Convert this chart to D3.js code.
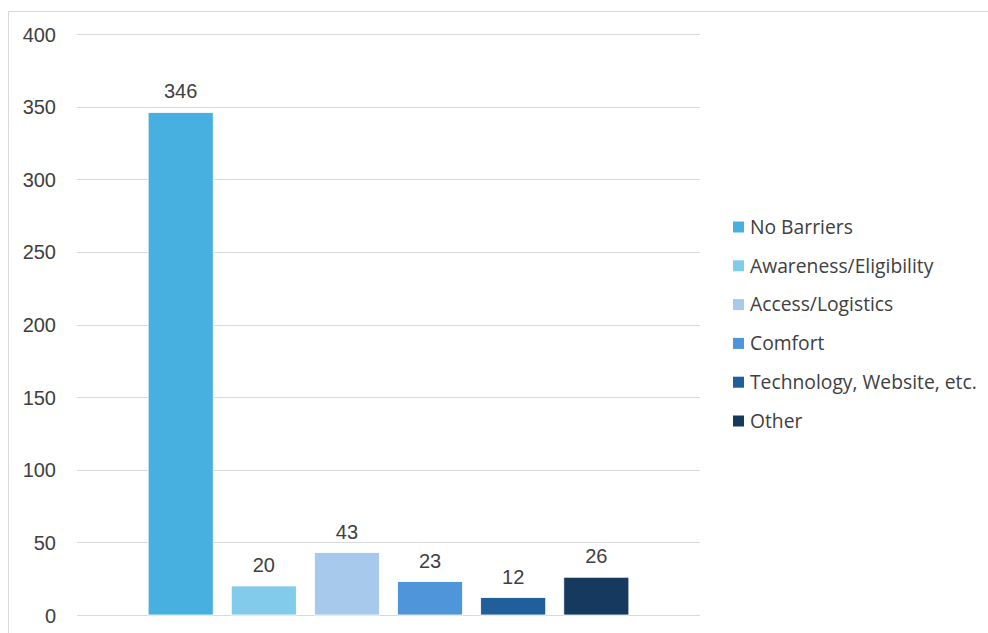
<!DOCTYPE html>
<html>
<head>
<meta charset="utf-8">
<script src="https://cdn.jsdelivr.net/npm/d3@7"></script>
<style>
  html, body { margin: 0; padding: 0; background: #fff; }
  svg { display: block; }
</style>
</head>
<body>
<svg id="chart" width="988" height="633"></svg>
<script>
// Survey responses: reported barriers
const categories = ["No Barriers", "Awareness/Eligibility", "Access/Logistics", "Comfort", "Technology, Website, etc.", "Other"];
const values = [346, 20, 43, 23, 12, 26];
const colors = ["#47B0E0", "#83CBEB", "#A6C9EC", "#4E95D9", "#215F9A", "#163A5F"];
const yTicks = [0, 50, 100, 150, 200, 250, 300, 350, 400];

const svg = d3.select("#chart");
const W = 988, H = 633;

// outer chart frame
svg.append("rect")
  .attr("x", 8.5).attr("y", 11.5)
  .attr("width", W).attr("height", H)
  .attr("fill", "#fff").attr("stroke", "#d9d9d9").attr("stroke-width", 1);

const plot = { left: 77, right: 700, top: 34, bottom: 615 };

const y = d3.scaleLinear().domain([0, 400]).range([plot.bottom, plot.top]);

// bars for one category group, centred in the plot
const x = d3.scaleBand()
  .domain(categories)
  .range([plot.left + 62, plot.right - 62])
  .paddingInner(0.217)
  .paddingOuter(0.11);

// gridlines
svg.append("g")
  .selectAll("line")
  .data(yTicks)
  .join("line")
  .attr("x1", plot.left).attr("x2", plot.right)
  .attr("y1", d => Math.round(y(d)) + 0.5)
  .attr("y2", d => Math.round(y(d)) + 0.5)
  .attr("stroke", "#d9d9d9").attr("stroke-width", 1.2);

// y axis labels
const yAxis = d3.axisLeft(y).tickValues(yTicks).tickSize(0).tickPadding(0);
const gy = svg.append("g").attr("transform", `translate(56,0)`).call(yAxis);
gy.select(".domain").remove();
gy.selectAll("text")
  .attr("font-family", "'Liberation Sans', Arial, sans-serif")
  .attr("font-size", 20)
  .attr("fill", "#404040")
  .attr("dy", "0.35em");

// bars
svg.append("g")
  .selectAll("rect")
  .data(categories)
  .join("rect")
  .attr("x", d => x(d))
  .attr("width", x.bandwidth())
  .attr("y", (d, i) => y(values[i]))
  .attr("height", (d, i) => y(0) - y(values[i]))
  .attr("fill", (d, i) => colors[i])
  .attr("stroke", "#fff").attr("stroke-width", 0.8);

// value labels
svg.append("g")
  .selectAll("text")
  .data(categories)
  .join("text")
  .attr("x", d => x(d) + x.bandwidth() / 2)
  .attr("y", (d, i) => y(values[i]) - 14)
  .attr("text-anchor", "middle")
  .attr("font-family", "'Liberation Sans', Arial, sans-serif")
  .attr("font-size", 20)
  .attr("fill", "#404040")
  .text((d, i) => values[i]);

// legend
const legend = svg.append("g").attr("transform", "translate(733,227)");
const items = legend.selectAll("g")
  .data(categories)
  .join("g")
  .attr("transform", (d, i) => `translate(0,${i * 38.8})`);
items.append("rect")
  .attr("x", 0).attr("y", -5.5)
  .attr("width", 11).attr("height", 11)
  .attr("fill", (d, i) => colors[i]);
items.append("text")
  .attr("x", 17).attr("y", 0)
  .attr("dy", "0.35em")
  .attr("font-family", "'Open Sans', sans-serif")
  .attr("font-size", 19.3)
  .attr("fill", "#404040")
  .text(d => d);
</script>
</body>
</html>
